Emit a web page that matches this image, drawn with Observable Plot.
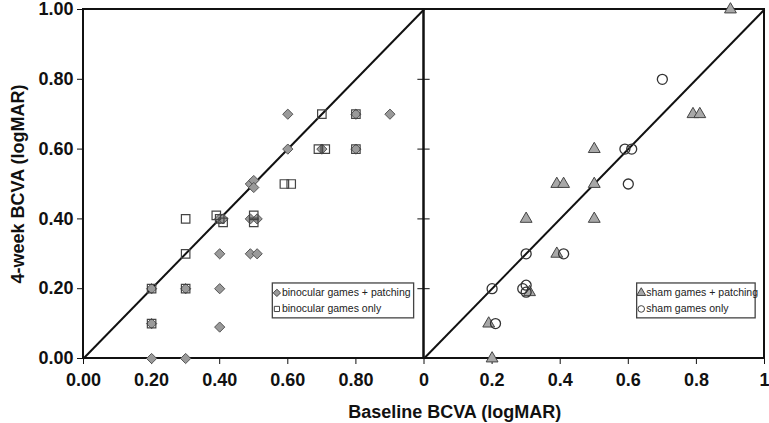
<!DOCTYPE html>
<html>
<head>
<meta charset="utf-8">
<script src="https://cdn.jsdelivr.net/npm/d3@7"></script>
<script src="https://cdn.jsdelivr.net/npm/@observablehq/plot@0.6"></script>
<style>
  html, body { margin: 0; padding: 0; background: #fff; }
</style>
</head>
<body>
<div id="chart"></div>
<script>
// ---- Data ----
// Left panel: binocular games
const binocPatchX = [0.6, 0.8, 0.9, 0.6, 0.7, 0.8, 0.49, 0.5, 0.5, 0.4, 0.41, 0.49, 0.51, 0.4, 0.49, 0.51, 0.2, 0.3, 0.4, 0.2, 0.4, 0.2, 0.3];
const binocPatchY = [0.7, 0.7, 0.7, 0.6, 0.6, 0.6, 0.5, 0.51, 0.49, 0.4, 0.4, 0.4, 0.4, 0.3, 0.3, 0.3, 0.2, 0.2, 0.2, 0.1, 0.09, 0.0, 0.0];
const binocOnlyX  = [0.7, 0.8, 0.69, 0.71, 0.8, 0.59, 0.61, 0.3, 0.39, 0.41, 0.4, 0.5, 0.5, 0.3, 0.2, 0.3, 0.2];
const binocOnlyY  = [0.7, 0.7, 0.6, 0.6, 0.6, 0.5, 0.5, 0.4, 0.41, 0.39, 0.4, 0.41, 0.39, 0.3, 0.2, 0.2, 0.1];
// Right panel: sham games
const shamPatchX = [0.9, 0.79, 0.81, 0.5, 0.39, 0.41, 0.5, 0.3, 0.5, 0.39, 0.31, 0.19, 0.2];
const shamPatchY = [1.0, 0.7, 0.7, 0.6, 0.5, 0.5, 0.5, 0.4, 0.4, 0.3, 0.19, 0.1, 0.0];
const shamOnlyX  = [0.7, 0.59, 0.61, 0.6, 0.3, 0.41, 0.2, 0.29, 0.3, 0.3, 0.21];
const shamOnlyY  = [0.8, 0.6, 0.6, 0.5, 0.3, 0.3, 0.2, 0.2, 0.21, 0.19, 0.1];

// Tick labels
const leftXTickLabels  = ["0.00", "0.20", "0.40", "0.60", "0.80"];
const rightXTickLabels = ["0", "0.2", "0.4", "0.6", "0.8", "1"];
const yTickLabels      = ["0.00", "0.20", "0.40", "0.60", "0.80", "1.00"];

// Legend labels
const leftLegendLabels  = ["binocular games + patching", "binocular games only"];
const rightLegendLabels = ["sham games + patching", "sham games only"];

const xTitle = "Baseline BCVA (logMAR)";
const yTitle = "4-week BCVA (logMAR)";

// ---- Build ----
const zip = (xs, ys, extra) => xs.map((x, i) => ({x: x + (extra || 0), y: ys[i]}));
const diamonds  = zip(binocPatchX, binocPatchY, 0);
const squares   = zip(binocOnlyX, binocOnlyY, 0);
const triangles = zip(shamPatchX, shamPatchY, 1);   // right panel offset by 1
const circles   = zip(shamOnlyX, shamOnlyY, 1);

const panels = [{x1: 0, x2: 1}, {x1: 1, x2: 2}];

const xTickMap = new Map();
leftXTickLabels.forEach(s => xTickMap.set(+s, s));
rightXTickLabels.forEach(s => xTickMap.set(1 + (+s), s));
const xTicks = Array.from(xTickMap.keys());
const yTicks = yTickLabels.map(Number);
const yFmt = new Map(yTicks.map((v, i) => [v, yTickLabels[i]]));

// legend geometry (data coordinates)
const legends = [
  {x1: 0.556, x2: 0.971, labels: leftLegendLabels, syms: ["diamond2", "square2"], fills: ["#9a9a9a", "none"]},
  {x1: 1.626, x2: 1.974, labels: rightLegendLabels, syms: ["triangle", "circle"], fills: ["#a8a8a8", "none"]}
];
const legY1 = 0.215, legY2 = 0.115;
const legRows = [0.188, 0.142];
const legItems = [];
legends.forEach(l => l.labels.forEach((lab, i) => legItems.push({
  x: l.x1 + 0.012, y: legRows[i], label: lab, symbol: l.syms[i], fill: l.fills[i]
})));

const chart = Plot.plot({
  width: 769,
  height: 423,
  marginLeft: 83,
  marginRight: 5,
  marginTop: 9,
  marginBottom: 65,
  style: {fontFamily: "'Liberation Sans', Arial, sans-serif", fontSize: "18px", fontWeight: "bold", color: "#111", background: "#fff"},
  x: {domain: [0, 2], ticks: xTicks, tickFormat: d => xTickMap.get(d), tickSize: 6, tickPadding: 9, label: null},
  y: {domain: [0, 1], ticks: yTicks, tickFormat: d => yFmt.get(d), tickSize: 6, tickPadding: 4,
      label: yTitle, labelAnchor: "center", labelArrow: "none", labelOffset: 72},
  symbol: {type: "identity"},
  marks: [
    // panel frames
    Plot.rect(panels, {x1: "x1", x2: "x2", y1: 0, y2: 1, fill: "none", stroke: "#111", strokeWidth: 2}),
    // inner y ticks at panel boundary
    Plot.ruleY(yTicks, {x1: 0.982, x2: 1, stroke: "#111", strokeWidth: 1}),
    Plot.ruleY(yTicks, {x1: 1, x2: 1.018, stroke: "#111", strokeWidth: 1}),
    // identity lines
    Plot.link(panels, {x1: "x1", y1: 0, x2: "x2", y2: 1, stroke: "#111", strokeWidth: 2}),
    // data
    Plot.dot(diamonds, {x: "x", y: "y", symbol: "diamond2", r: 4.6, fill: "#9a9a9a", stroke: "#555", strokeWidth: 1}),
    Plot.dot(squares, {x: "x", y: "y", symbol: "square2", r: 5.4, fill: "none", stroke: "#444", strokeWidth: 1.2}),
    Plot.dot(triangles, {x: "x", y: "y", symbol: "triangle", r: 4.4, fill: "#a8a8a8", stroke: "#444", strokeWidth: 1}),
    Plot.dot(circles, {x: "x", y: "y", symbol: "circle", r: 5, fill: "none", stroke: "#333", strokeWidth: 1.3}),
    // legends
    Plot.rect(legends, {x1: "x1", x2: "x2", y1: legY1, y2: legY2, fill: "#fff", stroke: "#444", strokeWidth: 1.3}),
    Plot.dot(legItems, {x: "x", y: "y", symbol: "symbol", r: 3.3, fill: "fill", stroke: "#444", strokeWidth: 1}),
    Plot.text(legItems, {x: "x", y: "y", text: "label", dx: 5, textAnchor: "start", fontSize: 10.5, fontWeight: "normal", fill: "#222"}),
    // x title
    Plot.text([xTitle], {x: 1.09, frameAnchor: "bottom", dy: 59, text: d => d, fontSize: 18, fontWeight: "bold", fill: "#111"})
  ]
});
document.getElementById("chart").appendChild(chart);
</script>
</body>
</html>
